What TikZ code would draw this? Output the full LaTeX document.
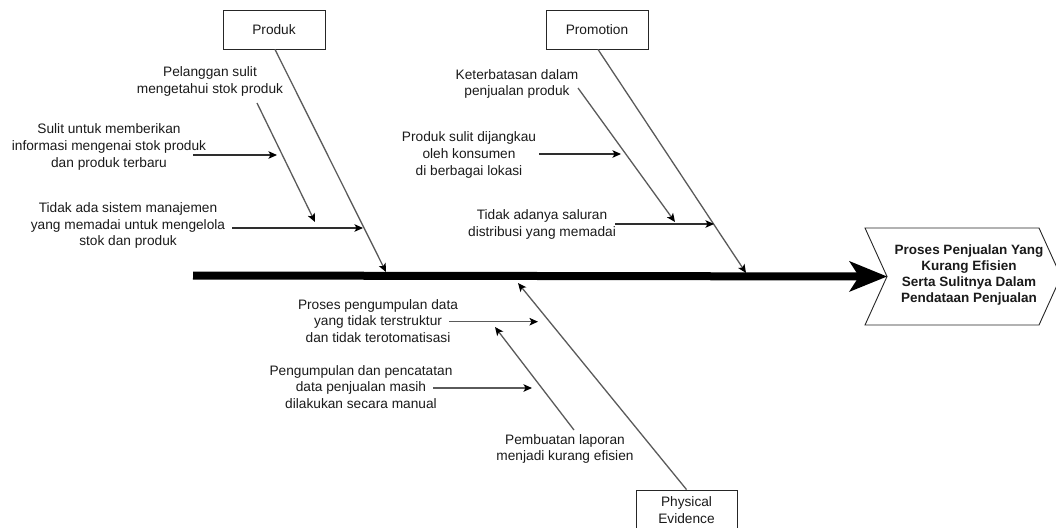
\documentclass[tikz,border=0pt]{standalone}
\usepackage{fontspec}
\setmainfont{Liberation Sans}
\usetikzlibrary{arrows.meta}
\definecolor{bone}{HTML}{5A5A5A}
\definecolor{twig}{HTML}{2E2E2E}
\definecolor{ink}{HTML}{1A1A1A}
\begin{document}
\begin{tikzpicture}[x=1pt,y=-1pt,
  txt/.style={font=\fontsize{13.7}{16.7}\selectfont,text=ink},
  lbl/.style={txt,align=center,inner sep=0pt},
  catbox/.style={txt,draw=black!85,line width=0.9pt,fill=white,align=center,
    inner sep=0pt,minimum width=102pt,minimum height=39pt},
  headtext/.style={align=center,inner sep=0pt,text=ink,
    font=\fontsize{13.5}{16}\selectfont\bfseries},
  bone/.style={draw=bone,line width=1.3pt,
    -{Stealth[length=8.5pt,width=7.5pt,inset=2pt,color=black]}},
  twigarrow/.style={bone,draw=twig},
  spine/.style={draw=black,line width=8pt,
    -{Stealth[length=38pt,width=31pt,inset=10pt,line width=0pt]}}
]
\useasboundingbox (0,0) rectangle (1056,527);

% effect: step-shaped head
\coordinate (h1) at (865,228);
\coordinate (h2) at (1039,228);
\coordinate (h3) at (1061,276.5);
\coordinate (h4) at (1039,325);
\coordinate (h5) at (865,325);
\coordinate (notch) at (887,276.5);
\draw[black!85,line width=0.9pt,fill=white] (h1) -- (h2) -- (h3) -- (h4) -- (h5) -- (notch) -- cycle;
\node[headtext] (effect) at (969,275) {Proses Penjualan Yang\\Kurang Efisien\\Serta Sulitnya Dalam\\Pendataan Penjualan};

% spine
\coordinate (tail) at (193,275.5);
\draw[spine] (tail) -- (notch);

% category boxes
\node[catbox] (produk) at (274,29.5) {Produk};
\node[catbox] (promo) at (597,29.5) {Promotion};
\node[catbox,minimum width=101pt,minimum height=40pt] (phys) at (686.5,510) {Physical\\Evidence};

% main bones
\coordinate (pj) at (386,272);
\coordinate (mj) at (746,273);
\coordinate (ej) at (518,283);
\draw[bone] (produk.south -| 275,0) -- (pj);
\draw[bone] (promo.south -| 598,0) -- (mj);
\draw[bone] (phys.north) -- (ej);

% causes: Produk
\node[lbl] (c1) at (210,81.5) {Pelanggan sulit\\mengetahui stok produk};
\coordinate (c1a) at (257,103);
\coordinate (c1b) at (315,222);
\draw[bone] (c1a) -- (c1b);

\node[lbl] (c2) at (109,147) {Sulit untuk memberikan\\informasi mengenai stok produk\\dan produk terbaru};
\coordinate (c2a) at (193,155);
\coordinate (c2b) at (277,155);
\draw[twigarrow] (c2a) -- (c2b);

\node[lbl] (c3) at (128,225.5) {Tidak ada sistem manajemen\\yang memadai untuk mengelola\\stok dan produk};
\coordinate (c3a) at (232,228);
\coordinate (c3b) at (363,228);
\draw[twigarrow] (c3a) -- (c3b);

% causes: Promotion
\node[lbl] (c4) at (517,84) {Keterbatasan dalam\\penjualan produk};
\coordinate (c4a) at (578,88);
\coordinate (c4b) at (675,222);
\draw[bone] (c4a) -- (c4b);

\node[lbl] (c5) at (469,155) {Produk sulit dijangkau\\oleh konsumen\\di berbagai lokasi};
\coordinate (c5a) at (539,154);
\coordinate (c5b) at (621,154);
\draw[twigarrow] (c5a) -- (c5b);

\node[lbl] (c6) at (542,224.5) {Tidak adanya saluran\\distribusi yang memadai};
\coordinate (c6a) at (615,224);
\coordinate (c6b) at (714,224);
\draw[twigarrow] (c6a) -- (c6b);

% causes: Physical Evidence
\node[lbl] (c7) at (378,321) {Proses pengumpulan data\\yang tidak terstruktur\\dan tidak terotomatisasi};
\coordinate (c7a) at (449,321.7);
\coordinate (c7b) at (538,321.7);
\draw[bone] (c7a) -- (c7b);

\node[lbl] (c8) at (361,387) {Pengumpulan dan pencatatan\\data penjualan masih\\dilakukan secara manual};
\coordinate (c8a) at (433,388);
\coordinate (c8b) at (532,388);
\draw[bone] (c8a) -- (c8b);

\node[lbl] (c9) at (565,449) {Pembuatan laporan\\menjadi kurang efisien};
\coordinate (c9a) at (574,430);
\coordinate (c9b) at (495,327);
\draw[bone] (c9a) -- (c9b);
\end{tikzpicture}
\end{document}
